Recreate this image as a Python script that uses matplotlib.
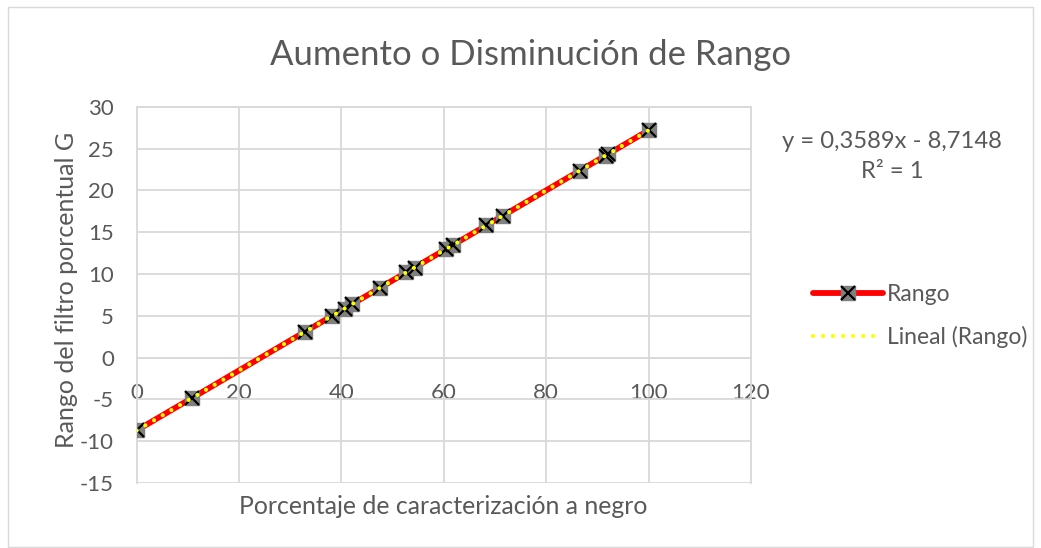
import numpy as np
import matplotlib
matplotlib.use("Agg")
import matplotlib.pyplot as plt
from matplotlib.lines import Line2D
from matplotlib.patches import Rectangle

plt.rcParams['font.family'] = ['Lato', 'DejaVu Sans']
plt.rcParams['axes.unicode_minus'] = False

# Porcentaje de caracterización a negro vs. rango del filtro porcentual G
porcentaje = [0, 10.8, 32.8, 38.1, 40.6, 42.0, 47.5, 52.7, 54.3, 60.5, 61.7,
              68.3, 71.5, 86.5, 91.6, 92.1, 100]
rango = [-8.71, -4.84, 3.06, 4.96, 5.86, 6.36, 8.33, 10.20, 10.77, 13.00, 13.43,
         15.80, 16.95, 22.33, 24.16, 24.34, 27.18]

x_ticks = [0, 20, 40, 60, 80, 100, 120]
y_ticks = [-15, -10, -5, 0, 5, 10, 15, 20, 25, 30]

TXT = '#595959'
GRID = '#D9D9D9'

W, H = 1041, 548
fig = plt.figure(figsize=(W / 100, H / 100), dpi=100)
fig.patches.append(Rectangle((8 / W, 1 / H), 1025 / W, (H - 8) / H,
                             transform=fig.transFigure, fill=False,
                             edgecolor=GRID, linewidth=1))

ax = fig.add_axes([136.7 / W, (H - 483) / H, (751 - 136.7) / W, (483 - 106.7) / H])
ax.set_xlim(0, 120)
ax.set_ylim(-15, 30)
ax.set_xticks(x_ticks)
ax.set_yticks(y_ticks)
ax.grid(True, color=GRID, linewidth=1.3)
ax.set_axisbelow(True)
for side in ['top', 'right', 'left']:
    ax.spines[side].set_color(GRID)
    ax.spines[side].set_linewidth(1.3)
ax.spines['bottom'].set_position(('data', 0))
ax.spines['bottom'].set_color(GRID)
ax.spines['bottom'].set_linewidth(1.3)
ax.tick_params(axis='x', length=0, pad=18, labelsize=16, labelcolor=TXT)
ax.tick_params(axis='y', length=0, pad=16.5, labelsize=16, labelcolor=TXT)

# Serie de datos
ax.plot(porcentaje, rango, color='#FF0000', linewidth=4.2, zorder=3,
        solid_capstyle='round')
ax.plot(porcentaje, rango, linestyle='none', marker='s', markersize=10,
        markerfacecolor='#808080', markeredgecolor='#808080', zorder=4)
ax.plot(porcentaje, rango, linestyle='none', marker='x', markersize=10,
        markeredgecolor='black', markeredgewidth=1.6, zorder=5)

# Línea de tendencia lineal
m, b = np.polyfit(porcentaje, rango, 1)
xt = np.array([min(porcentaje), max(porcentaje)])
ax.plot(xt, m * xt + b, color='#FFFF00', linewidth=3.0,
        linestyle=(0, (0.01, 2.4)), dash_capstyle='round', zorder=6)

fig.text(531 / W, 1 - 55 / H, 'Aumento o Disminución de Rango', ha='center',
         va='center', fontsize=25, color=TXT)
fig.text(443 / W, 1 - 507 / H, 'Porcentaje de caracterización a negro',
         ha='center', va='center', fontsize=17.9, color=TXT)
fig.text(67 / W, 1 - 290 / H, 'Rango del filtro porcentual G', ha='center',
         va='center', rotation=90, fontsize=18, color=TXT)
fig.text(892 / W, 1 - 142 / H, 'y = 0,3589x - 8,7148', ha='center',
         va='center', fontsize=17.1, color=TXT)
fig.text(892 / W, 1 - 172 / H, 'R² = 1', ha='center', va='center',
         fontsize=17.1, color=TXT)

h1 = (Line2D([], [], color='#FF0000', linewidth=4.2, solid_capstyle='round'),
      Line2D([], [], linestyle='none', marker='s', markersize=10,
             markerfacecolor='#808080', markeredgecolor='#808080'),
      Line2D([], [], linestyle='none', marker='x', markersize=10,
             markeredgecolor='black', markeredgewidth=1.6))
h2 = Line2D([], [], color='#FFFF00', linewidth=3.0, linestyle=(0, (0.01, 2.4)),
            dash_capstyle='round')
fig.legend([h1, h2], ['Rango', 'Lineal (Rango)'], loc='center left',
           bbox_to_anchor=(792 / W, 1 - 316 / H), frameon=False, fontsize=16.5,
           labelcolor=TXT, handlelength=3.05, handletextpad=0.2,
           labelspacing=0.9)

fig.savefig('out.png', dpi=100)
